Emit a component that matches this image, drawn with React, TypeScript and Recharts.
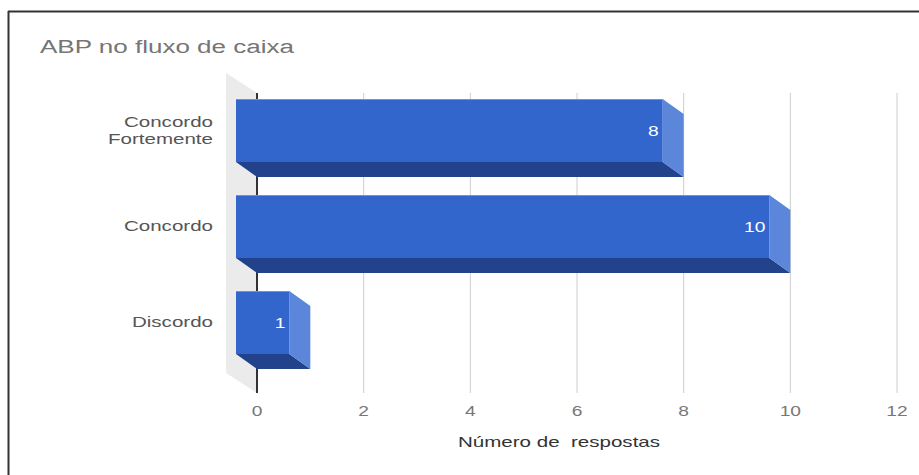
import React from 'react';
import { BarChart, Bar, XAxis, YAxis, CartesianGrid, LabelList } from 'recharts';

const categories = ['Concordo Fortemente', 'Concordo', 'Discordo'];
const respostas = [8, 10, 1];
const xTicks = [0, 2, 4, 6, 8, 10, 12];
const title = 'ABP no fluxo de caixa';
const axisTitle = 'Número de  respostas';

const data = categories.map((name, i) => ({ name, value: respostas[i] }));

const FONT = '"Liberation Sans", Arial, sans-serif';
// the source picture is stretched sideways, so text gets a horizontal scale
const SX = 1.37;
// depth of the fake 3D effect
const DX = 21;
const DY = 15;

const FRONT = '#3366cc';
const SIDE = '#5b86d9';
const BOTTOM = '#22428c';

function StretchText({ x, y, anchor = 'start', size, fill, weight, children }: any) {
  return (
    <text
      transform={`translate(${x} ${y}) scale(${SX} 1)`}
      x={0}
      y={0}
      textAnchor={anchor}
      fontFamily={FONT}
      fontSize={size}
      fontWeight={weight}
      fill={fill}
      style={{ whiteSpace: 'pre' }}
    >
      {children}
    </text>
  );
}

function Bar3D(props: any) {
  const { x, y, width, height } = props;
  if (!width || !height) return null;
  const fx = x - DX;
  const fy = y - DY;
  return (
    <g>
      <polygon
        points={`${fx},${fy + height} ${fx + width},${fy + height} ${x + width},${y + height} ${x},${y + height}`}
        fill={BOTTOM}
      />
      <polygon
        points={`${fx + width},${fy} ${x + width},${y} ${x + width},${y + height} ${fx + width},${fy + height}`}
        fill={SIDE}
      />
      <rect x={fx} y={fy} width={width} height={height} fill={FRONT} />
      <line x1={fx} x2={fx + width} y1={fy + 0.5} y2={fy + 0.5} stroke="#6a92e0" />
    </g>
  );
}

function ValueLabel(props: any) {
  const { x, y, width, height, value } = props;
  return (
    <StretchText
      x={x + width - DX - 4}
      y={y + height / 2 - DY + 5}
      anchor="end"
      size={14}
      fill="#ffffff"
    >
      {value}
    </StretchText>
  );
}

function YTick(props: any) {
  const { x, y, payload } = props;
  const text = String(payload.value);
  const lines = text.length > 12 ? text.split(' ') : [text];
  const cy = y - DY;
  return (
    <g>
      {lines.map((ln, i) => (
        <StretchText
          key={ln}
          x={x}
          y={cy + (i - (lines.length - 1) / 2) * 17 + 5}
          anchor="end"
          size={15}
          fill="#555555"
        >
          {ln}
        </StretchText>
      ))}
    </g>
  );
}

function XTick(props: any) {
  const { x, y, payload } = props;
  return (
    <StretchText x={x} y={y + 5} anchor="middle" size={14} fill="#777777">
      {payload.value}
    </StretchText>
  );
}

function AxisTitle(props: any) {
  const vb = props.viewBox;
  return (
    <StretchText x={vb.x + vb.width / 2 - 18} y={vb.y + 62} anchor="middle" size={15} fill="#333333">
      {axisTitle}
    </StretchText>
  );
}

function gridLine(props: any) {
  const { x1, y1, y2, index } = props;
  const top = y1 - 4;
  const bottom = y2 + 8;
  if (index === 0) {
    return (
      <g key={`v-${index}`}>
        <polygon
          points={`${x1 - 31},${top - 20} ${x1},${top} ${x1},${bottom} ${x1 - 31},${bottom - 20}`}
          fill="#ebebeb"
        />
        <line x1={x1} x2={x1} y1={top} y2={bottom} stroke="#333333" strokeWidth={2} />
      </g>
    );
  }
  return <line key={`v-${index}`} x1={x1} x2={x1} y1={top} y2={bottom} stroke="#cccccc" strokeWidth={1} />;
}

export default function App() {
  return (
    <div style={{ position: 'absolute', left: 0, top: 0, width: 919, height: 475, background: '#fff' }}>
      <BarChart
        layout="vertical"
        width={919}
        height={475}
        data={data}
        margin={{ top: 97, right: 22, bottom: 60, left: 0 }}
      >
        <CartesianGrid horizontal={false} vertical={gridLine} />
        <XAxis
          type="number"
          domain={[0, 12]}
          ticks={xTicks}
          axisLine={false}
          tickLine={false}
          tickSize={0}
          tickMargin={26}
          height={30}
          tick={XTick}
          label={{ content: AxisTitle }}
        />
        <YAxis
          type="category"
          dataKey="name"
          width={257}
          axisLine={false}
          tickLine={false}
          tickSize={0}
          tickMargin={44}
          tick={YTick}
        />
        <Bar dataKey="value" barSize={63} shape={Bar3D} isAnimationActive={false}>
          <LabelList dataKey="value" content={ValueLabel} />
        </Bar>
      </BarChart>
      <svg width={919} height={475} style={{ position: 'absolute', left: 0, top: 0, pointerEvents: 'none' }}>
        <line x1={8} x2={919} y1={11.5} y2={11.5} stroke="#333333" strokeWidth={2} />
        <line x1={8.5} x2={8.5} y1={11} y2={475} stroke="#333333" strokeWidth={2} />
        <StretchText x={40} y={53} size={19} fill="#757575">
          {title}
        </StretchText>
      </svg>
    </div>
  );
}
